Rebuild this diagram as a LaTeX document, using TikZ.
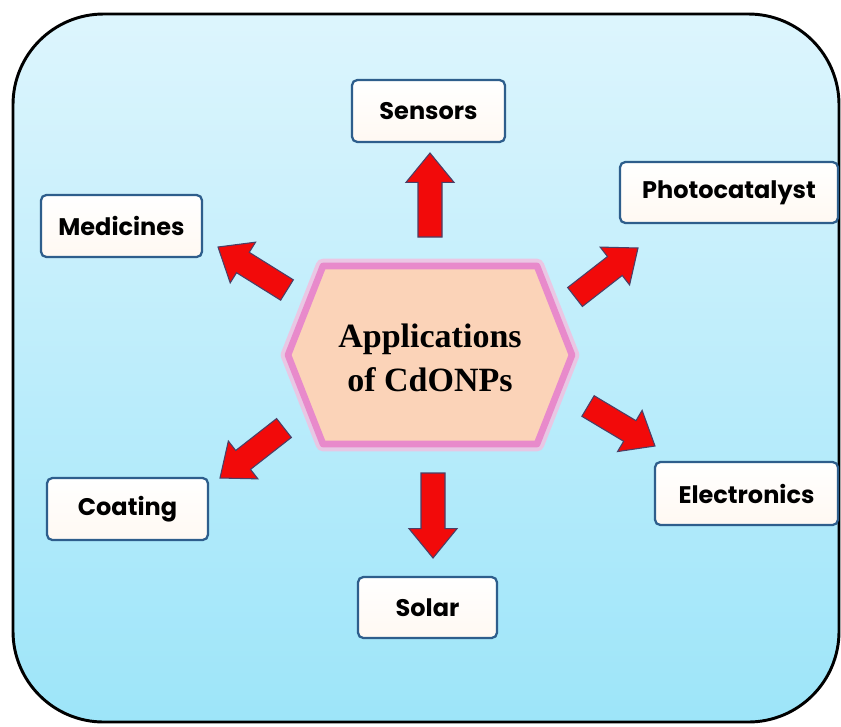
\documentclass[tikz,border=0pt]{standalone}
\usepackage{fontspec}
\usetikzlibrary{calc,shadings}
\newfontfamily\boxfont{Poppins}
\newfontfamily\titlefont{Liberation Serif}
\definecolor{bgtop}{HTML}{DDF5FD}
\definecolor{bgbot}{HTML}{9DE5F9}
\definecolor{boxline}{HTML}{2E5E8C}
\definecolor{hexfill}{HTML}{FBD3B8}
\definecolor{hexline}{HTML}{E88ACB}
\definecolor{hexglow}{HTML}{F4BEDF}
\definecolor{arrred}{HTML}{F20A0A}
\definecolor{arrline}{HTML}{4A3F66}
\tikzset{
  appbox/.style={draw=boxline, line width=1.7pt, rounded corners=4pt,
    top color=white, bottom color=white!95!orange, inner sep=0pt,
    font=\boxfont\bfseries\fontsize{18}{20}\selectfont, text=black},
  arrowshape/.style={fill=arrred, draw=arrline, line width=0.8pt, line join=miter}
}
\newcommand\blockarrow[2]{%
  \coordinate (H) at ($(#2)!22pt!(#1)$);
  \path[arrowshape] ($(#1)!9pt!90:(#2)$) -- ($(H)!9pt!-90:(#1)$) -- ($(H)!18pt!-90:(#1)$)
    -- (#2) -- ($(H)!18pt!90:(#1)$) -- ($(H)!9pt!90:(#1)$) -- ($(#1)!9pt!-90:(#2)$) -- cycle;
}
\begin{document}
\begin{tikzpicture}[x=0.75pt,y=-0.75pt]
\useasboundingbox (0,0) rectangle (841,726);
% outer frame
\path[top color=bgtop, bottom color=bgbot] (13,14) [rounded corners=68pt] rectangle (839,722);
\draw[line width=2.2pt, rounded corners=68pt] (13,14) rectangle (839,722);
% hexagon
\coordinate (h1) at (288,355);
\coordinate (h2) at (323,266);
\coordinate (h3) at (537,266);
\coordinate (h4) at (572,355);
\coordinate (h5) at (537,444);
\coordinate (h6) at (323,444);
\draw[hexglow, line width=11pt, line join=round, opacity=0.8] (h1)--(h2)--(h3)--(h4)--(h5)--(h6)--cycle;
\draw[hexline, line width=5pt, line join=round, fill=hexfill] (h1)--(h2)--(h3)--(h4)--(h5)--(h6)--cycle;
\node[align=center, font=\titlefont\bfseries\fontsize{25.5}{32.5}\selectfont, text=black] (center) at (430,358) {Applications\\of CdONPs};
% boxes
\node[appbox, minimum width=153*0.75pt, minimum height=62*0.75pt] (sensors) at (428.5,111) {Sensors};
\node[appbox, minimum width=218*0.75pt, minimum height=61*0.75pt] (photo) at (729,192.5) {Photocatalyst};
\node[appbox, minimum width=161*0.75pt, minimum height=62*0.75pt] (medi) at (121.5,226) {Medicines};
\node[appbox, minimum width=161*0.75pt, minimum height=62*0.75pt] (coat) at (127.5,509) {Coating};
\node[appbox, minimum width=139*0.75pt, minimum height=61*0.75pt] (solar) at (427.5,607.5) {Solar};
\node[appbox, minimum width=183*0.75pt, minimum height=63*0.75pt] (elec) at (746.5,493.5) {Electronics};
% arrow end points
\coordinate (upT) at (430,237);   \coordinate (upP) at (430,153);
\coordinate (dnT) at (433,473);   \coordinate (dnP) at (433,558);
\coordinate (ulT) at (287,290);   \coordinate (ulP) at (218,247);
\coordinate (urT) at (575,297);   \coordinate (urP) at (638,248);
\coordinate (lrT) at (588,406);   \coordinate (lrP) at (655,446);
\coordinate (llT) at (284,428);   \coordinate (llP) at (220,478);
\blockarrow{upT}{upP}
\blockarrow{dnT}{dnP}
\blockarrow{ulT}{ulP}
\blockarrow{urT}{urP}
\blockarrow{lrT}{lrP}
\blockarrow{llT}{llP}
\end{tikzpicture}
\end{document}
